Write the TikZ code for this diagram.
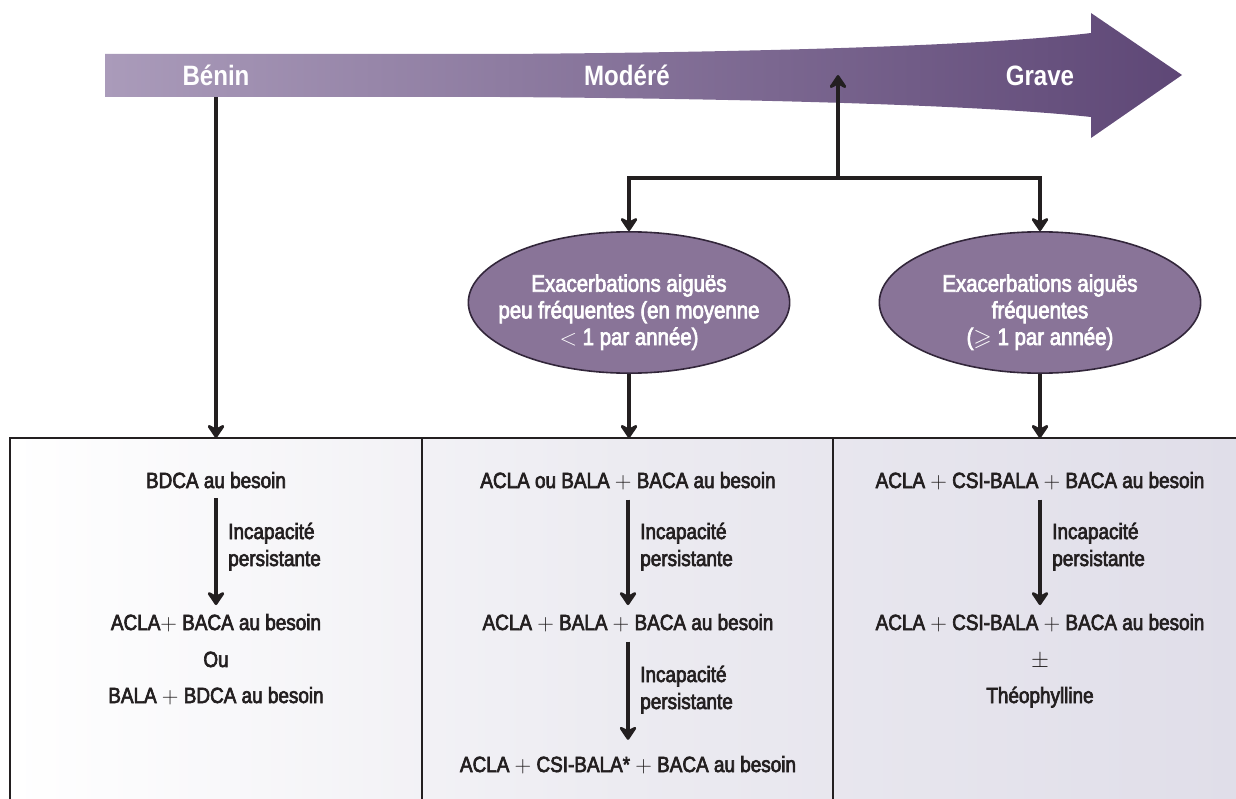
\documentclass[tikz,border=0pt]{standalone}
\usepackage{amssymb}
\usepackage{fontspec}
\setmainfont{Liberation Sans}[FakeStretch=0.86]
\newfontfamily\bodyfont{Liberation Sans}[FakeStretch=0.86, UprightFeatures={FakeBold=3}]
\usetikzlibrary{arrows.meta,shapes.geometric}
\definecolor{txt}{RGB}{35,31,32}
\definecolor{arrL}{RGB}{170,155,186}
\definecolor{arrR}{RGB}{94,71,118}
\definecolor{ellfill}{RGB}{137,116,152}
\definecolor{ellline}{RGB}{50,38,58}
\definecolor{panelM}{RGB}{236,235,241}
\definecolor{panelR}{RGB}{224,222,233}
\begin{document}
\begin{tikzpicture}[x=0.75pt,y=-0.75pt,
  every node/.style={inner sep=0pt, text=txt},
  body/.style={font=\bodyfont\fontsize{16.5}{20.25}\selectfont},
  head/.style={font=\fontsize{21}{24}\selectfont\bfseries, text=white},
  ell/.style={draw=ellline, line width=1.2pt, fill=ellfill, ellipse,
    minimum width=241pt, minimum height=106pt},
  elltext/.style={font=\bodyfont\fontsize{17.8}{20}\selectfont, text=white, align=center},
  conn/.style={draw=txt, line width=2.3pt,
    -{Stealth[length=12pt, width=16pt, inset=4pt, round]}},
  frame/.style={draw=txt, line width=2.1pt}
]
\useasboundingbox (0,0) rectangle (1236,799);

% panel background
\shade[left color=white, right color=panelR, middle color=panelM] (10,438) rectangle (1236,799);

% big gradient arrow
\shade[left color=arrL, right color=arrR]
  (105,54) -- (500,54) .. controls (800,52) and (1000,44) .. (1091,33)
  -- (1091,13) -- (1182,75) -- (1091,138) -- (1091,117)
  .. controls (1000,107) and (800,99) .. (500,97) -- (105,97) -- cycle;

% header labels
\node[head, anchor=base] (benin) at (216,86) {Bénin};
\node[head, anchor=base] (modere) at (627,86) {Modéré};
\node[head, anchor=base] (grave) at (1040,86) {Grave};

% frame
\draw[frame] (10,799) -- (10,438) -- (1236,438);
\draw[frame] (422,438) -- (422,799);
\draw[frame] (833,438) -- (833,799);

% coordinates for connector ends
\coordinate (b0) at (216,97);
\coordinate (t1) at (216,438);
\coordinate (split) at (838,178);
\coordinate (up) at (838,75);
\coordinate (t2) at (629,438);
\coordinate (t3) at (1040,438);

% ellipses
\node[ell] (e1) at (629,302.5) {};
\node[elltext, anchor=base] (e1t) at (629,345) {Exacerbations aiguës\\peu fréquentes (en moyenne\\$<$ 1 par année)};
\node[ell] (e2) at (1040,302.5) {};
\node[elltext, anchor=base] (e2t) at (1040,345) {Exacerbations aiguës\\fréquentes\\($\geqslant$ 1 par année)};

% top connectors
\draw[conn] (b0) -- (t1);
\draw[conn] (split) -- (up);
\draw[conn, line join=miter] (split) -| (e1);
\draw[conn, line join=miter] (split) -| (e2);
\draw[conn] (e1) -- (t2);
\draw[conn] (e2) -- (t3);

% column 1
\node[body, anchor=base] (a1) at (216,488) {BDCA au besoin};
\node[body, anchor=base] (a2) at (216,630) {ACLA$+$ BACA au besoin};
\node[body, anchor=base] (a3) at (216,667) {Ou};
\node[body, anchor=base] (a4) at (216,703) {BALA $+$ BDCA au besoin};
\node[body, anchor=base west, align=left] (l1) at (228,566) {Incapacité\\persistante};
\draw[conn, shorten <=7.5pt, shorten >=6.5pt] (a1.south) -- (a2.north);

% column 2
\node[body, anchor=base] (b1) at (628,488) {ACLA ou BALA $+$ BACA au besoin};
\node[body, anchor=base] (b2) at (628,630) {ACLA $+$ BALA $+$ BACA au besoin};
\node[body, anchor=base] (b3) at (628,772) {ACLA $+$ CSI-BALA* $+$ BACA au besoin};
\node[body, anchor=base west, align=left] (l2) at (640,566) {Incapacité\\persistante};
\node[body, anchor=base west, align=left] (l3) at (640,709) {Incapacité\\persistante};
\draw[conn, shorten <=7.5pt, shorten >=6.5pt] (b1.south) -- (b2.north);
\draw[conn, shorten <=7.5pt, shorten >=12pt] (b2.south) -- (b3.north);

% column 3
\node[body, anchor=base] (c1) at (1040,488) {ACLA $+$ CSI-BALA $+$ BACA au besoin};
\node[body, anchor=base] (c2) at (1040,630) {ACLA $+$ CSI-BALA $+$ BACA au besoin};
\node[body, anchor=base] (c3) at (1040,667) {$\pm$};
\node[body, anchor=base] (c4) at (1040,703) {Théophylline};
\node[body, anchor=base west, align=left] (l4) at (1052,566) {Incapacité\\persistante};
\draw[conn, shorten <=7.5pt, shorten >=6.5pt] (c1.south) -- (c2.north);
\end{tikzpicture}
\end{document}
